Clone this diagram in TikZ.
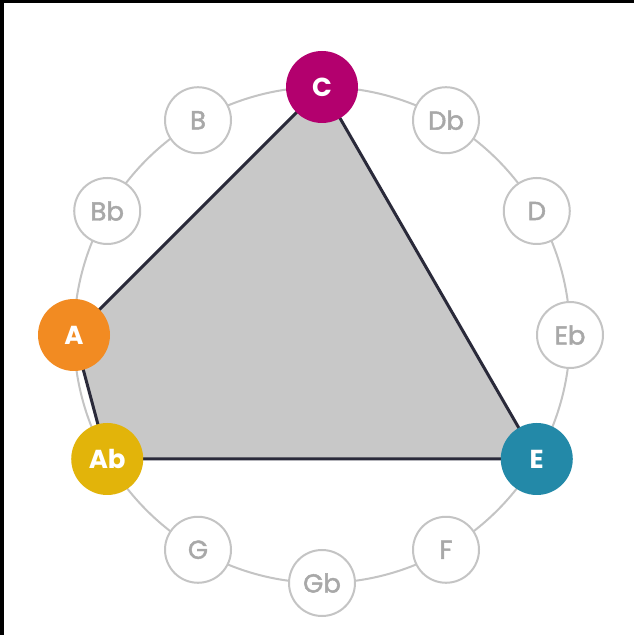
\documentclass[tikz,border=0pt]{standalone}
\usepackage{fontspec}
\setmainfont{Poppins}
\newfontfamily\notefont{Poppins}[FakeBold=1.8]
\usetikzlibrary{backgrounds}
\definecolor{cmag}{HTML}{B3006E}
\definecolor{corange}{HTML}{F28B22}
\definecolor{cyellow}{HTML}{E2B40A}
\definecolor{cteal}{HTML}{2389A8}
\definecolor{ringgray}{HTML}{C4C4C4}
\definecolor{labelgray}{HTML}{A8A8A8}
\definecolor{trifill}{HTML}{C8C8C8}
\definecolor{triedge}{HTML}{2A2A3A}
\tikzset{
  notenode/.style={circle, draw=ringgray, line width=2pt, fill=white, minimum size=66pt, inner sep=0pt,
    text=labelgray, font=\notefont\fontsize{26}{26}\selectfont},
  keynode/.style={circle, draw=none, minimum size=72pt, inner sep=0pt,
    text=white, font=\fontsize{26}{26}\selectfont\bfseries},
  ringline/.style={draw=ringgray, line width=2pt},
  triangle/.style={fill=trifill, draw=triedge, line width=3pt, line join=round}
}
\begin{document}
\begin{tikzpicture}[x=1pt,y=1pt]
\useasboundingbox (0,0) rectangle (634,635);
\coordinate (O) at (322,300);
\node[keynode, fill=cmag]    (C)  at ([shift={(90:248)}]O)   {C};
\node[notenode]              (Db) at ([shift={(60:248)}]O)   {Db};
\node[notenode]              (D)  at ([shift={(30:248)}]O)   {D};
\node[notenode]              (Eb) at ([shift={(0:248)}]O)    {Eb};
\node[keynode, fill=cteal]   (E)  at ([shift={(-30:248)}]O)  {E};
\node[notenode]              (F)  at ([shift={(-60:248)}]O)  {F};
\node[notenode]              (Gb) at ([shift={(-90:248)}]O)  {Gb};
\node[notenode]              (G)  at ([shift={(-120:248)}]O) {G};
\node[keynode, fill=cyellow] (Ab) at ([shift={(-150:248)}]O) {Ab};
\node[keynode, fill=corange] (A)  at ([shift={(180:248)}]O)  {A};
\node[notenode]              (Bb) at ([shift={(150:248)}]O)  {Bb};
\node[notenode]              (B)  at ([shift={(120:248)}]O)  {B};
\begin{scope}[on background layer]
  \fill[white] (0,0) rectangle (634,635);
  \fill[black] (0,632) rectangle (634,635);
  \fill[black] (0,0) rectangle (4,635);
  \draw[ringline] (O) circle[radius=248];
  \path[triangle] (C.center) -- (E.center) -- (Ab.center) -- (A.center) -- cycle;
\end{scope}
\end{tikzpicture}
\end{document}
